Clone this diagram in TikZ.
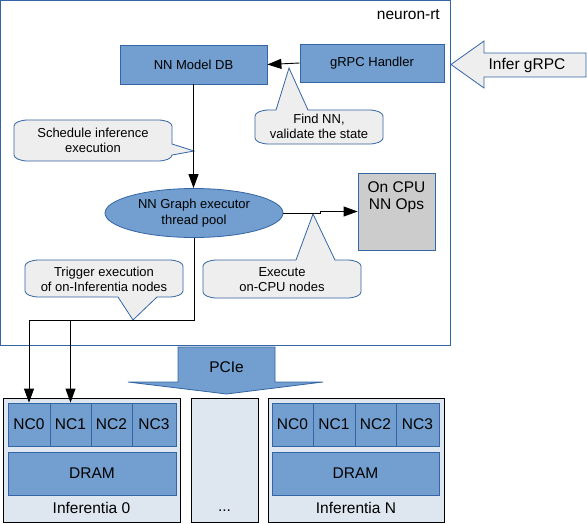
\documentclass[tikz,border=0pt]{standalone}
\usepackage{fontspec}
\setmainfont{Liberation Sans}
\usetikzlibrary{arrows.meta,shapes.geometric,calc}
\definecolor{boxblue}{HTML}{729FCF}
\definecolor{edgeblue}{HTML}{3465A4}
\definecolor{callgray}{HTML}{EEEEEE}
\definecolor{cpugray}{HTML}{CCCCCC}
\definecolor{chipbg}{HTML}{DEE6EF}
\begin{document}
\begin{tikzpicture}[x=1pt,y=-1pt,
 bluebox/.style={draw=edgeblue, fill=boxblue, line width=0.8pt, inner sep=0pt},
 smallfont/.style={font=\fontsize{13}{15.5}\selectfont},
 bigfont/.style={font=\fontsize{15.5}{17}\selectfont},
 callshape/.style={draw=edgeblue, fill=callgray, line width=0.8pt},
 arr/.style={draw=black, line width=0.9pt, -{Triangle[length=14pt,width=10pt]}},
 chip/.style={draw=black, fill=chipbg, line width=0.8pt, inner sep=0pt, minimum height=124pt},
 cell/.style={bluebox, bigfont, minimum height=43pt},
 txt/.style={inner sep=0pt, align=center}]
\useasboundingbox (0,0) rectangle (587,523);

% outer runtime box
\node[draw=edgeblue, fill=white, line width=1pt, minimum width=449.5pt, minimum height=344.5pt, inner sep=0pt] (rt) at (225.25,172.75) {};
\node[bigfont, anchor=east, inner sep=0pt] (rtlabel) at (440,15) {neuron-rt};

% callouts
\path[callshape] (28,120) -- (158,120) .. controls (165.7,120) and (172,122.7) .. (172,126) -- (172,144) -- (194,151) -- (172,155) .. controls (172,158.3) and (165.7,161) .. (158,161) -- (28,161) .. controls (20.3,161) and (14,158.3) .. (14,155) -- (14,126) .. controls (14,122.7) and (20.3,120) .. (28,120) -- cycle;
\path[callshape] (269,110) -- (276,110) -- (289,68) -- (308,110) -- (369,110) .. controls (376.7,110) and (383,112.7) .. (383,116) -- (383,138) .. controls (383,141.3) and (376.7,144) .. (369,144) -- (269,144) .. controls (261.3,144) and (255,141.3) .. (255,138) -- (255,116) .. controls (255,112.7) and (261.3,110) .. (269,110) -- cycle;
\path[callshape] (39,260) -- (169,260) .. controls (176.7,260) and (183,262.7) .. (183,266) -- (183,291) .. controls (183,294.3) and (176.7,297) .. (169,297) -- (157,297) -- (133,320) -- (118,297) -- (39,297) .. controls (31.3,297) and (25,294.3) .. (25,291) -- (25,266) .. controls (25,262.7) and (31.3,260) .. (39,260) -- cycle;
\path[callshape] (217,260) -- (296,260) -- (313,214) -- (335,260) -- (347,260) .. controls (354.7,260) and (361,262.7) .. (361,266) -- (361,292) .. controls (361,295.3) and (354.7,298) .. (347,298) -- (217,298) .. controls (209.3,298) and (203,295.3) .. (203,292) -- (203,266) .. controls (203,262.7) and (209.3,260) .. (217,260) -- cycle;
\node[txt, smallfont] (tsched) at (93,140.5) {Schedule inference\\execution};
\node[txt, smallfont] (tfind) at (319,126.5) {Find NN,\\validate the state};
\node[txt, smallfont] (ttrig) at (104,279.5) {Trigger execution\\of on-Inferentia nodes};
\node[txt, smallfont] (texec) at (282,279.5) {Execute\\on-CPU nodes};

% main nodes
\node[bluebox, smallfont, minimum width=147pt, minimum height=39pt] (db) at (193.5,64.5) {NN Model DB};
\node[bluebox, smallfont, minimum width=144pt, minimum height=38pt] (grpc) at (372,63) {gRPC Handler};
\node[ellipse, draw=edgeblue, fill=boxblue, line width=0.8pt, minimum width=178pt, minimum height=49pt, inner sep=0pt, align=center, smallfont] (ell) at (194,213) {NN Graph executor\\thread pool};
\node[draw=edgeblue, fill=cpugray, line width=0.8pt, minimum width=77pt, minimum height=77pt, inner sep=0pt] (cpu) at (396.5,211.5) {};
\node[txt, bigfont, anchor=north] (cputxt) at ([yshift=-8.5pt]cpu.north) {On CPU\\NN Ops};

% Infer gRPC block arrow
\path[draw=edgeblue, fill=callgray, line width=0.8pt] (586,53) -- (484,53) -- (484,41) -- (451,64.5) -- (484,88) -- (484,77) -- (586,77) -- cycle;
\node[bigfont, inner sep=0pt] (infer) at (527,65) {Infer gRPC};

% PCIe block arrow
\path[draw=edgeblue, fill=boxblue, line width=0.8pt] (178,347) -- (275,347) -- (275,382) -- (323,382) -- (226.5,394) -- (128,382) -- (178,382) -- cycle;
\node[bigfont, inner sep=0pt] (pcie) at (226.5,367) {PCIe};

% Inferentia chips
\node[chip, minimum width=177pt] (inf0) at (91.5,460) {};
\node[chip, minimum width=67pt] (infmid) at (224.5,460) {};
\node[chip, minimum width=176pt] (infN) at (356,460) {};

\node[cell, minimum width=42pt] (nc00) at (29,424.5) {NC0};
\node[cell, minimum width=41pt] (nc01) at (70.5,424.5) {NC1};
\node[cell, minimum width=41pt] (nc02) at (111.5,424.5) {NC2};
\node[cell, minimum width=44pt] (nc03) at (154,424.5) {NC3};
\node[cell, minimum width=168pt] (dram0) at (92,473.5) {DRAM};
\node[bigfont, inner sep=0pt] (lab0) at (91.5,508) {Inferentia 0};

\node[bigfont, inner sep=0pt] (labmid) at (224.5,511) {...};

\node[cell, minimum width=41pt] (ncN0) at (292.5,424.5) {NC0};
\node[cell, minimum width=42pt] (ncN1) at (334,424.5) {NC1};
\node[cell, minimum width=41pt] (ncN2) at (375.5,424.5) {NC2};
\node[cell, minimum width=43pt] (ncN3) at (417.5,424.5) {NC3};
\node[cell, minimum width=167pt] (dramN) at (355.5,473.5) {DRAM};
\node[bigfont, inner sep=0pt] (labN) at (356,508) {Inferentia N};

% connectors
\draw[arr] (grpc.west) -- (db.east);
\draw[arr] (db.south) -- (db.south |- ell.north);
\draw[arr] (ell.east) -- ++(37,0) |- (cpu.west);
\coordinate (bend) at (ell.south |- 0,320);
\draw[arr] (ell.south) -- (bend) -| (nc00.north);
\draw[arr] (nc01.north |- bend) -- (nc01.north);
\end{tikzpicture}
\end{document}
